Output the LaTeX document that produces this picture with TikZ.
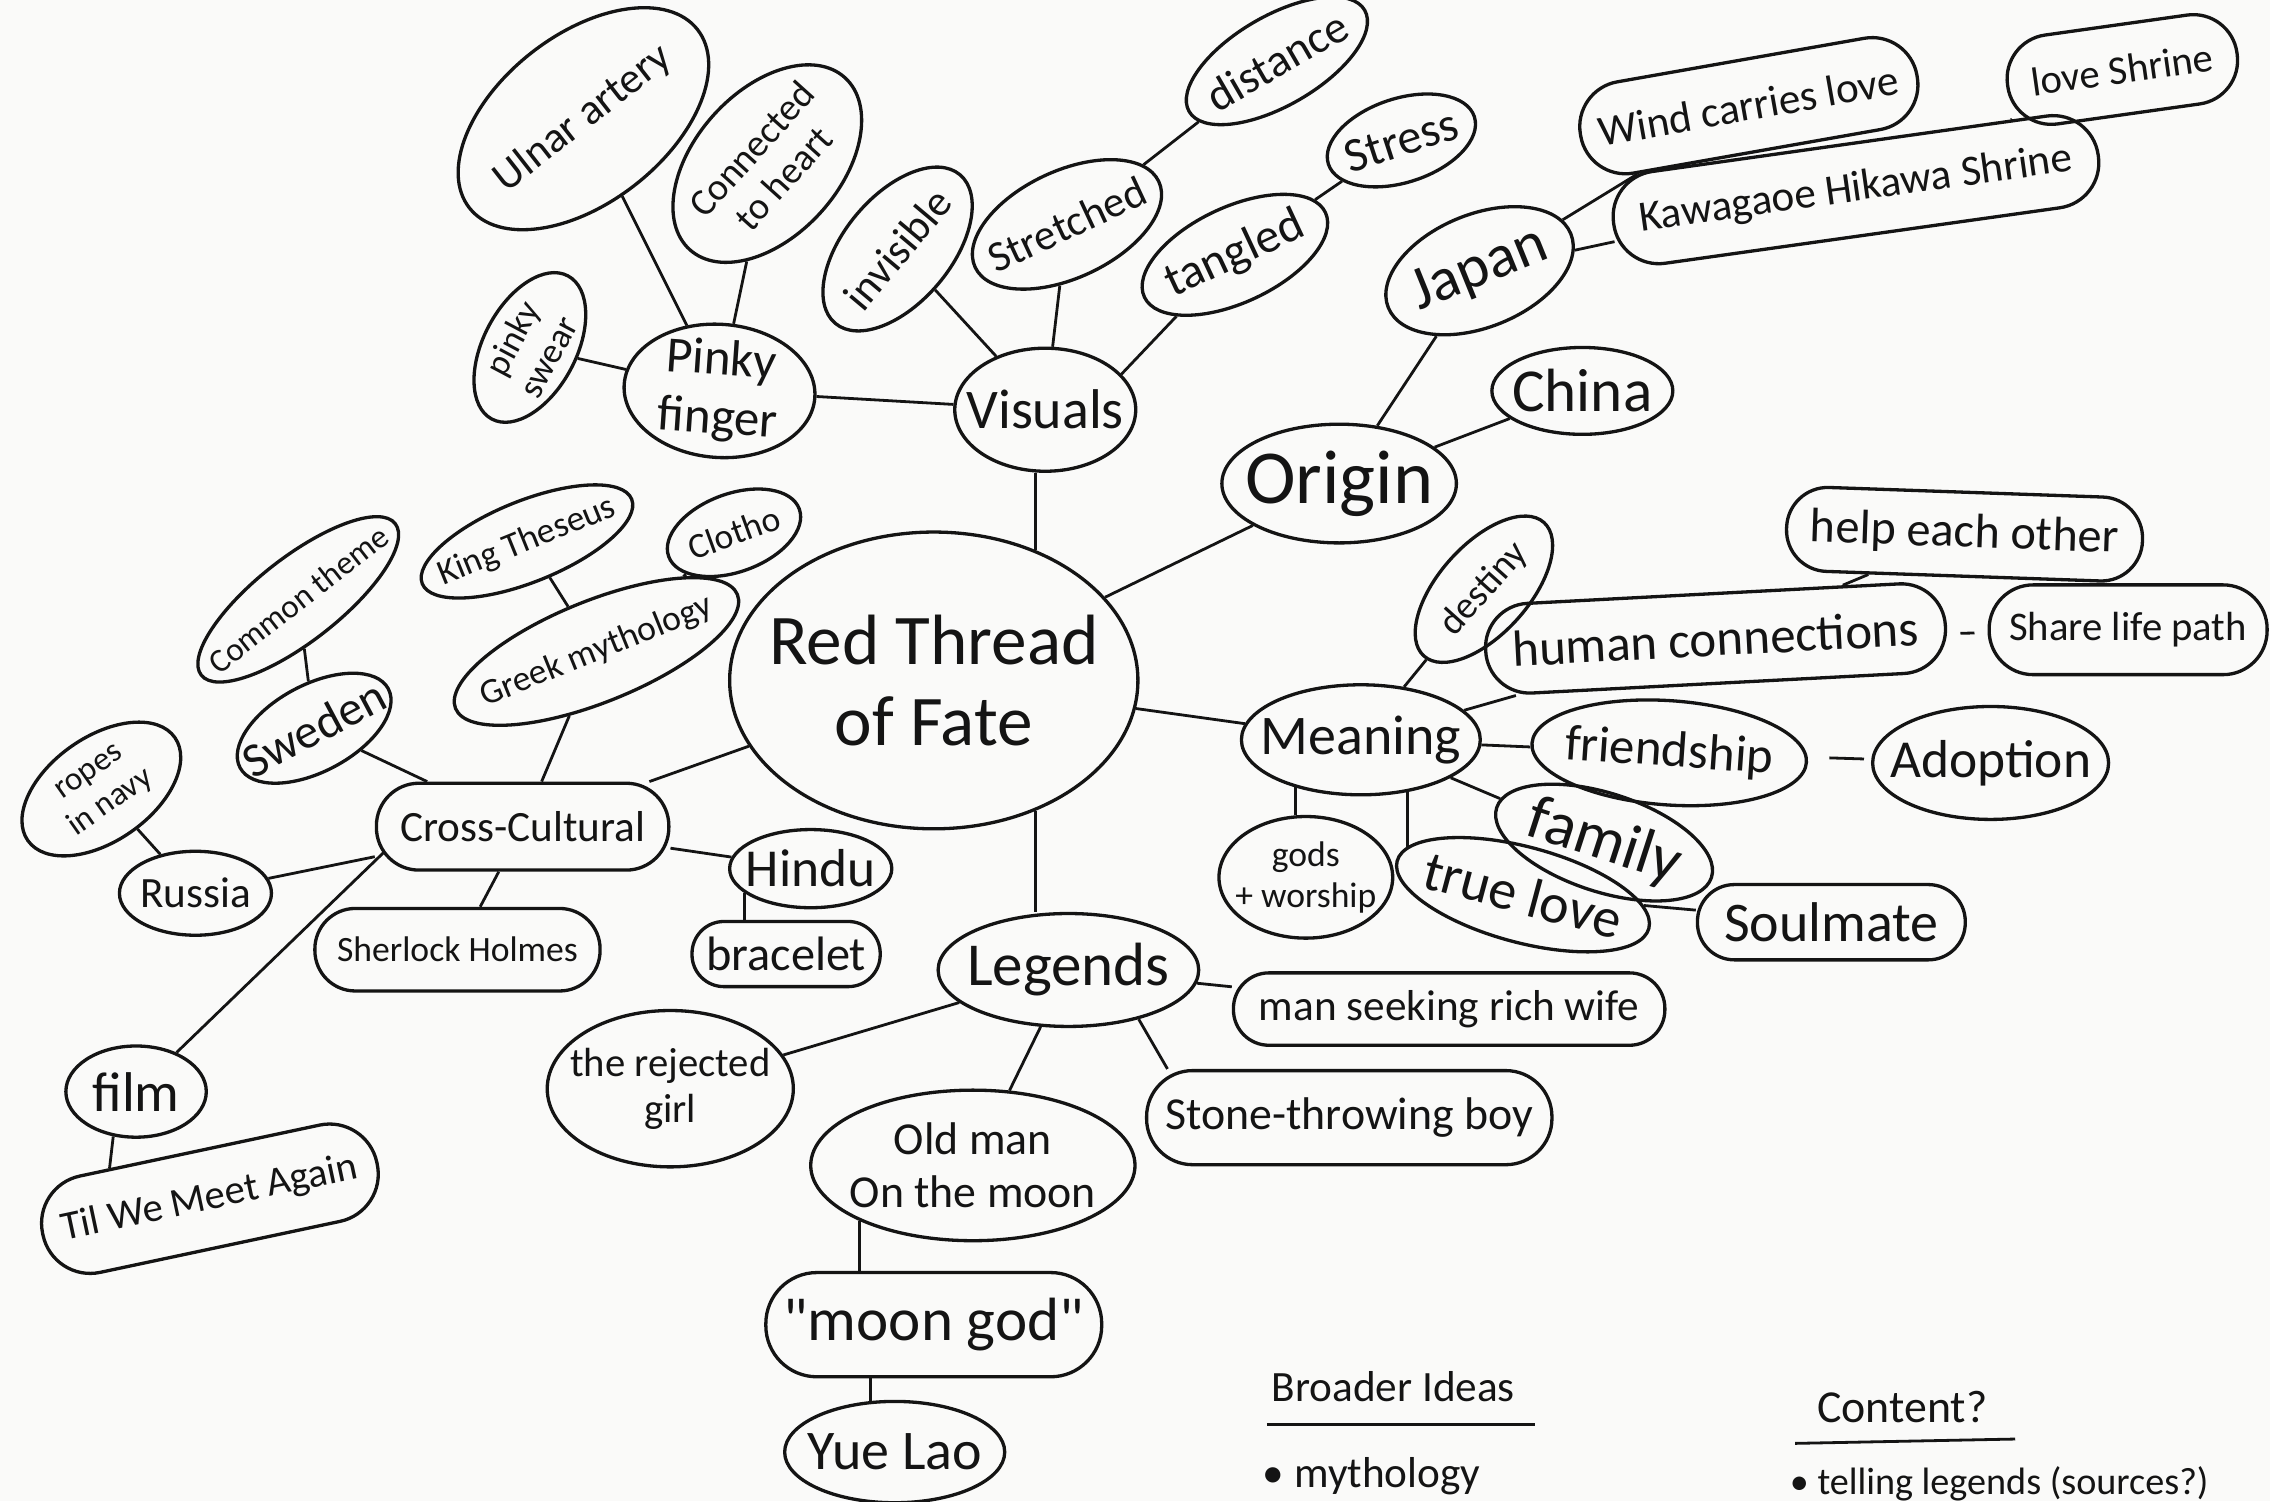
\documentclass[tikz,border=0pt]{standalone}
\usepackage{fontspec}
\setmainfont{Carlito}
\usetikzlibrary{shapes.geometric}
\newcommand\fz[1]{\fontsize{#1}{\numexpr#1*23/20\relax}\selectfont}
\definecolor{paper}{RGB}{250,250,249}
\definecolor{ink}{RGB}{20,20,20}
\tikzset{
  bub/.style n args={2}{draw=ink, line width=1.3pt, ellipse, inner xsep=-60mm, inner ysep=-60mm, align=center, text=ink, minimum width=#1*0.2mm, minimum height=#2*0.2mm},
  rbub/.style n args={2}{draw=ink, line width=1.3pt, rectangle, rounded corners=#2*0.098mm, inner xsep=-60mm, inner ysep=-60mm, align=center, text=ink, minimum width=#1*0.2mm, minimum height=#2*0.2mm},
  fsz/.style={font=\fz{#1}},
  con/.style={draw=ink, line width=1.1pt, sharp corners},
  lbl/.style={text=ink, inner sep=0pt},
}
\begin{document}
\begin{tikzpicture}[x=0.2mm,y=-0.2mm]
\fill[paper] (0,0) rectangle (1568,1037);
\useasboundingbox (0,0) rectangle (1568,1037);
% nodes
\node[bub={282}{205}, fsz=28] (red) at (645,470) {Red Thread\\of Fate};
\node[bub={125}{85}, fsz=22] (vis) at (722,283) {Visuals};
\node[bub={132}{92}, fsz=20, rotate=-4] (pf) at (497,270) {Pinky\\finger};
\node[bub={112}{64}, fsz=14, rotate=62] (ps) at (366,240) {pinky\\swear};
\node[bub={200}{116}, fsz=17, rotate=38] (ulnar) at (403,82) {Ulnar artery};
\node[bub={160}{100}, fsz=15, rotate=48] (conn) at (530,113) {Connected\\to heart};
\node[bub={134}{74}, fsz=17, rotate=50] (inv) at (620,172) {invisible};
\node[bub={140}{74}, fsz=17, rotate=25] (str) at (737,155) {Stretched};
\node[bub={140}{62}, fsz=18, rotate=30] (dist) at (882,42) {distance};
\node[bub={106}{58}, fsz=19, rotate=18] (stress) at (968,97) {Stress};
\node[bub={138}{66}, fsz=19, rotate=25] (tang) at (853,176) {tangled};
\node[bub={136}{78}, fsz=24, rotate=22] (japan) at (1022,187) {Japan};
\node[rbub={236}{64}, fsz=17, rotate=10] (wind) at (1208,73) {Wind carries love};
\node[rbub={338}{64}, fsz=17, rotate=8] (kawa) at (1282,131) {Kawagaoe Hikawa Shrine};
\node[rbub={160}{62}, fsz=16, rotate=8] (love) at (1466,48) {love Shrine};
\node[bub={125}{60}, fsz=24] (china) at (1093,270) {China};
\node[bub={162}{82}, fsz=30] (origin) at (925,334) {Origin};
\node[bub={165}{76}, fsz=22] (meaning) at (940,511) {Meaning};
\node[bub={124}{62}, fsz=15, rotate=48] (destiny) at (1025,407) {destiny};
\node[rbub={318}{62}, fsz=20, rotate=3] (hc) at (1185,441) {human connections};
\node[rbub={246}{58}, fsz=19, rotate=-2] (help) at (1357,369) {help each other};
\node[rbub={192}{62}, fsz=16] (share) at (1470,435) {Share life path};
\node[bub={190}{72}, fsz=20, rotate=-4] (friend) at (1153,520) {friendship};
\node[bub={163}{78}, fsz=21] (adopt) at (1375,527) {Adoption};
\node[bub={156}{68}, fsz=25, rotate=-18] (family) at (1108,582) {family};
\node[bub={120}{84}, fsz=14] (gods) at (902,606) {gods\\+ worship};
\node[bub={180}{66}, fsz=22, rotate=-15] (tl) at (1052,618) {true love};
\node[rbub={185}{52}, fsz=22] (soul) at (1265,637) {Soulmate};
\node[bub={180}{78}, fsz=24] (legends) at (738,670) {Legends};
\node[rbub={298}{50}, fsz=17] (man) at (1001,697) {man seeking rich wife};
\node[rbub={280}{65}, fsz=18] (stone) at (932,772) {Stone-throwing boy};
\node[bub={224}{104}, fsz=18] (oldman) at (672,805) {Old man\\On the moon};
\node[rbub={232}{72}, fsz=24] (moongod) at (645,915) {\textquotedbl moon god\textquotedbl};
\node[bub={152}{70}, fsz=22] (yue) at (618,1003) {Yue Lao};
\node[bub={170}{108}, fsz=16] (rej) at (463,752) {the rejected\\girl};
\node[rbub={202}{60}, fsz=17] (cross) at (361,571) {Cross-Cultural};
\node[bub={116}{60}, fsz=19, rotate=28] (sweden) at (217,503) {Sweden};
\node[bub={170}{58}, fsz=13, rotate=38] (common) at (206,414) {Common theme};
\node[bub={124}{72}, fsz=13, rotate=35] (ropes) at (70,545) {ropes\\in navy};
\node[bub={105}{58}, fsz=17] (russia) at (135,617) {Russia};
\node[rbub={197}{57}, fsz=14] (sher) at (316,656) {Sherlock Holmes};
\node[bub={97}{63}, fsz=22] (film) at (94,754) {film};
\node[rbub={236}{68}, fsz=16, rotate=12] (til) at (145,828) {Til We Meet Again};
\node[bub={112}{54}, fsz=21] (hindu) at (560,600) {Hindu};
\node[rbub={130}{45}, fsz=19] (brace) at (543,659) {bracelet};
\node[bub={210}{70}, fsz=14, rotate=22] (greek) at (412,450) {Greek mythology};
\node[bub={156}{56}, fsz=14, rotate=22] (king) at (364,374) {King Theseus};
\node[bub={96}{54}, fsz=14, rotate=20] (clotho) at (507,368) {Clotho};
% connectors
\draw[con] (red.52) -- (red.52 |- vis.south);
\draw[con] (red.308) -- (red.308 |- legends.north);
\draw[con] (red) -- (origin);
\draw[con] (red) -- (meaning);
\draw[con] (red) -- (cross);
\draw[con] (vis) -- (pf);
\draw[con] (vis) -- (inv);
\draw[con] (vis) -- (str);
\draw[con] (vis.25) -- (tang);
\draw[con] (str) -- (dist);
\draw[con] (tang) -- (stress);
\draw[con] (pf) -- (ps);
\draw[con] (pf) -- (ulnar);
\draw[con] (pf) -- (conn);
\draw[con] (origin) -- (japan);
\draw[con] (origin) -- (china);
\draw[con] (japan) -- (wind);
\draw[con] (japan) -- (kawa);
\draw[con] (kawa) -- (love);
\draw[con] (meaning) -- (destiny);
\draw[con] (meaning) -- (hc);
\draw[con] (meaning) -- (friend);
\draw[con] (meaning) -- (family);
\draw[con] (meaning.216) -- (meaning.216 |- gods.north);
\draw[con] (meaning.312) -- (meaning.312 |- tl.north);
\draw[con] (hc) -- (help);
\draw[con, shorten <=1.8mm, shorten >=1.8mm] (hc) -- (share);
\draw[con, shorten <=3mm, shorten >=1mm] (friend) -- (adopt);
\draw[con] (tl) -- (soul);
\draw[con] (legends) -- (man);
\draw[con] (legends.325) -- (stone.165);
\draw[con] (legends) -- (oldman);
\draw[con] (legends) -- (rej);
\draw[con] (oldman.206) -- (oldman.206 |- moongod.north);
\draw[con] (yue.115) -- (yue.115 |- moongod.south);
\draw[con] (cross) -- (sweden);
\draw[con] (sweden) -- (common);
\draw[con] (cross) -- (russia);
\draw[con] (russia) -- (ropes);
\draw[con] (cross) -- (sher);
\draw[con] ([xshift=1.2mm]cross.190) -- (film);
\draw[con] (film.243) -- (til.151);
\draw[con] (cross) -- (hindu);
\draw[con] (hindu.200) -- (hindu.200 |- brace.north);
\draw[con] (cross) -- (greek);
\draw[con] (greek) -- (king);
\draw[con] (greek) -- (clotho);
% notes
\node[lbl, fsz=17, anchor=west] (bi) at (878,958) {Broader Ideas};
\coordinate (bia) at (875,984);
\coordinate (bib) at (1060,984);
\draw[con] (bia) -- (bib);
\node[lbl, fsz=17, anchor=west] (myth) at (872,1020) {\textbullet\ mythology};
\node[lbl, fsz=18, anchor=west] (cont) at (1255,972) {Content?};
\coordinate (ca) at (1240,997);
\coordinate (cb) at (1392,994);
\draw[con] (ca) -- (cb);
\node[lbl, fsz=15, anchor=west] (tell) at (1236,1025) {\textbullet\ telling legends (sources?)};
\end{tikzpicture}
\end{document}
